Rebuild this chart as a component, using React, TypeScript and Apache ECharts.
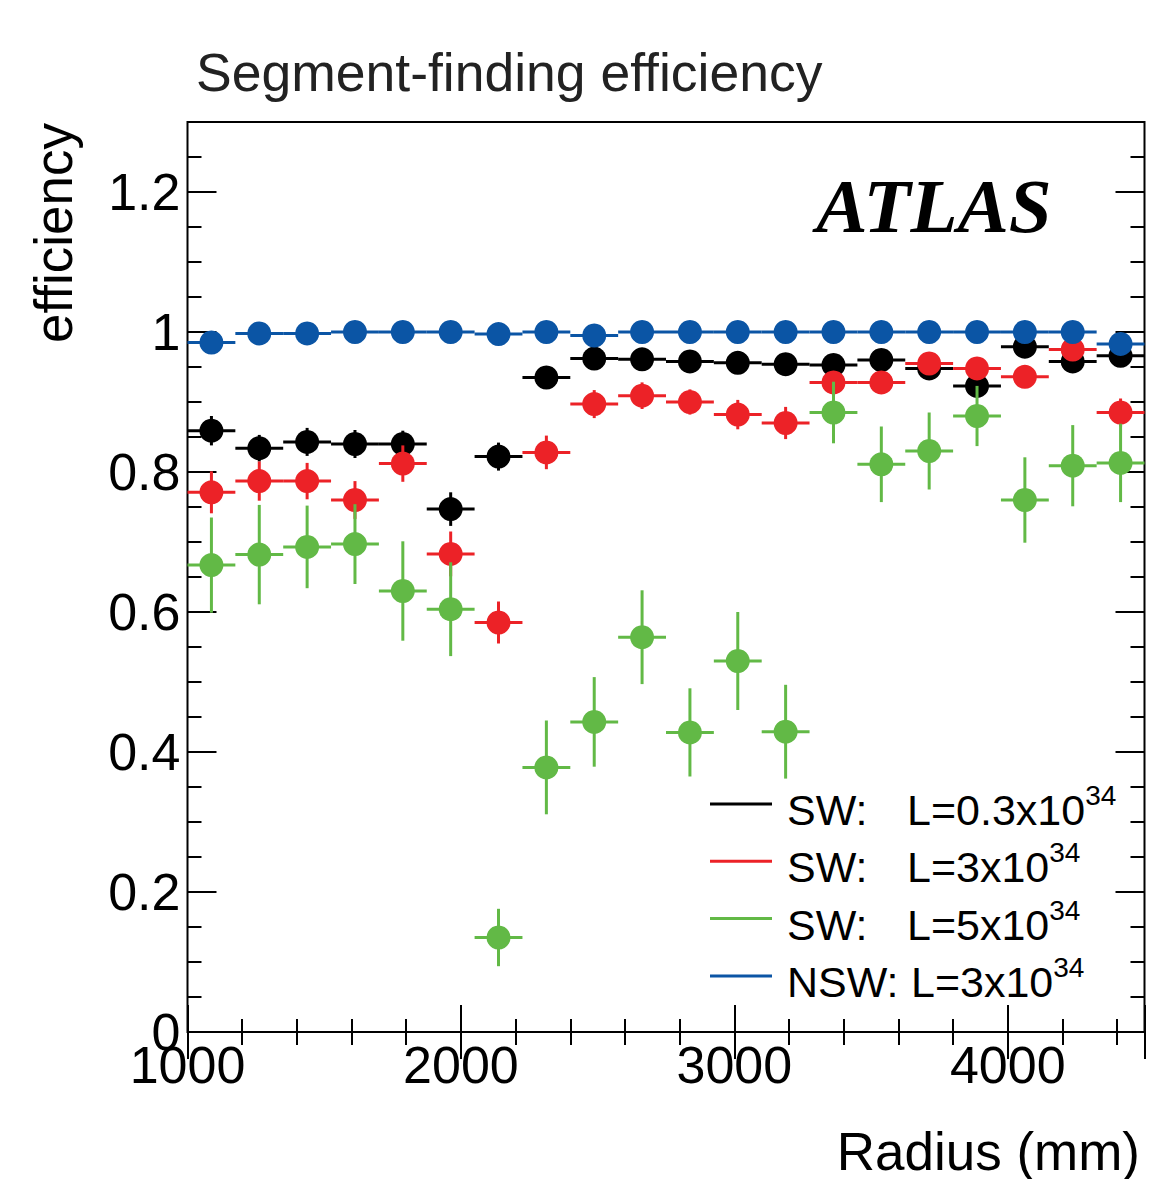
import { useEffect, useRef } from 'react';
import * as echarts from 'echarts';

// Bin centres (mm), bins are 175 mm wide
const binCenters = [1087.5, 1262.5, 1437.5, 1612.5, 1787.5, 1962.5, 2137.5, 2312.5, 2487.5, 2662.5, 2837.5, 3012.5, 3187.5, 3362.5, 3537.5, 3712.5, 3887.5, 4062.5, 4237.5, 4412.5];
const binHalfWidth = 87.5;

const swL03 = [0.859, 0.834, 0.843, 0.840, 0.840, 0.747, 0.822, 0.935, 0.962, 0.961, 0.958, 0.956, 0.954, 0.953, 0.960, 0.948, 0.923, 0.979, 0.958, 0.966];
const swL03Err = [0.021, 0.019, 0.020, 0.020, 0.019, 0.024, 0.020, 0.012, 0.010, 0.010, 0.010, 0.010, 0.010, 0.010, 0.010, 0.010, 0.012, 0.008, 0.008, 0.008];

const swL3 = [0.771, 0.787, 0.787, 0.760, 0.812, 0.683, 0.585, 0.828, 0.897, 0.909, 0.900, 0.882, 0.870, 0.928, 0.928, 0.955, 0.948, 0.936, 0.975, 0.885];
const swL3Err = [0.030, 0.028, 0.026, 0.027, 0.026, 0.032, 0.030, 0.024, 0.020, 0.019, 0.018, 0.021, 0.023, 0.015, 0.015, 0.014, 0.014, 0.013, 0.013, 0.020];

const swL5 = [0.667, 0.682, 0.693, 0.697, 0.630, 0.604, 0.135, 0.378, 0.443, 0.564, 0.428, 0.530, 0.429, 0.885, 0.811, 0.830, 0.880, 0.760, 0.809, 0.813];
const swL5Err = [0.068, 0.071, 0.059, 0.057, 0.071, 0.067, 0.041, 0.067, 0.064, 0.067, 0.063, 0.070, 0.067, 0.044, 0.054, 0.055, 0.043, 0.061, 0.058, 0.056];

const nswL3 = [0.985, 0.998, 0.998, 1.0, 1.0, 1.0, 0.997, 1.0, 0.995, 1.0, 1.0, 1.0, 1.0, 1.0, 1.0, 1.0, 1.0, 1.0, 1.0, 0.983];
const nswL3Err = [0.004, 0.004, 0.004, 0.004, 0.004, 0.004, 0.004, 0.004, 0.004, 0.004, 0.004, 0.004, 0.004, 0.004, 0.004, 0.004, 0.004, 0.004, 0.004, 0.004];

const seriesNames = ['SW: L=0.3x10^34', 'SW: L=3x10^34', 'SW: L=5x10^34', 'NSW: L=3x10^34'];
const legendPrefix = ['SW:', 'SW:', 'SW:', 'NSW:'];
const legendLumi = ['L=0.3x10', 'L=3x10', 'L=5x10', 'L=3x10'];
const legendExp = '34';
const seriesColors = ['#000000', '#ec2227', '#62b946', '#0b55a5'];

const titleText = 'Segment-finding efficiency';
const xTitle = 'Radius (mm)';
const yTitle = 'efficiency';
const experimentLabel = 'ATLAS';

const FONT = '"Liberation Sans", Arial, Helvetica, sans-serif';

function makeSeries(name: string, values: number[], errs: number[], color: string) {
  return {
    type: 'custom',
    name,
    itemStyle: { color },
    encode: { x: 0, y: 1 },
    clip: false,
    data: binCenters.map((x, i) => [x, values[i], errs[i]]),
    renderItem: (params: any, api: any) => {
      const x = api.value(0);
      const y = api.value(1);
      const e = api.value(2);
      const c = api.coord([x, y]);
      const l = api.coord([x - binHalfWidth, y]);
      const r = api.coord([x + binHalfWidth, y]);
      const t = api.coord([x, y + e]);
      const b = api.coord([x, y - e]);
      return {
        type: 'group',
        children: [
          { type: 'line', shape: { x1: l[0], y1: l[1], x2: r[0], y2: r[1] }, style: { stroke: color, lineWidth: 3 } },
          { type: 'line', shape: { x1: t[0], y1: t[1], x2: b[0], y2: b[1] }, style: { stroke: color, lineWidth: 3 } },
          { type: 'circle', shape: { cx: c[0], cy: c[1], r: 12 }, style: { fill: color } },
        ],
      };
    },
  };
}

function tickAxis(kind: 'x' | 'y', position: string, interval: number, length: number, labels: boolean) {
  const base: any = {
    type: 'value',
    position,
    min: kind === 'x' ? 1000 : 0,
    max: kind === 'x' ? 4500 : 1.3,
    interval,
    axisLine: { show: false },
    splitLine: { show: false },
    axisTick: { show: true, inside: true, length, lineStyle: { color: '#000', width: 2 } },
    axisLabel: { show: false },
  };
  if (labels) {
    base.axisLabel = {
      show: true,
      color: '#000',
      fontFamily: FONT,
      fontSize: 52,
      lineHeight: 52,
      margin: 7,
      formatter: (v: number) => {
        if (kind === 'x' && v > 4400) return '';
        if (kind === 'y' && v > 1.25) return '';
        return String(Math.round(v * 100) / 100);
      },
    };
  }
  return base;
}

export default function App() {
  const ref = useRef<HTMLDivElement>(null);
  useEffect(() => {
    if (!ref.current) return;
    const chart = echarts.init(ref.current, null, { renderer: 'svg' });
    chart.setOption({
      animation: false,
      backgroundColor: '#ffffff',
      title: {
        text: titleText,
        left: 196,
        top: 46,
        padding: 0,
        textStyle: { fontFamily: FONT, fontSize: 53.5, lineHeight: 53, fontWeight: 'normal', color: '#222' },
      },
      grid: {
        left: 187.5,
        top: 122,
        width: 957,
        height: 910,
        show: true,
        borderColor: '#000',
        borderWidth: 2,
        backgroundColor: 'transparent',
      },
      xAxis: [
        tickAxis('x', 'bottom', 1000, 27, true),
        tickAxis('x', 'bottom', 200, 13, false),
        tickAxis('x', 'top', 1000, 27, false),
        tickAxis('x', 'top', 200, 13, false),
      ],
      yAxis: [
        tickAxis('y', 'left', 0.2, 29, true),
        tickAxis('y', 'left', 0.05, 14, false),
        tickAxis('y', 'right', 0.2, 29, false),
        tickAxis('y', 'right', 0.05, 14, false),
      ],
      legend: {
        orient: 'vertical',
        left: 705,
        top: 776.5,
        itemWidth: 62,
        itemHeight: 3,
        itemGap: 7.3,
        icon: 'rect',
        selectedMode: false,
        data: seriesNames,
        formatter: (name: string) => {
          const i = seriesNames.indexOf(name);
          const p = i === 3 ? 'q' : 'p';
          return `{${p}|${legendPrefix[i]}}{l|${legendLumi[i]}}{s|${legendExp}}`;
        },
        textStyle: {
          color: '#000',
          fontFamily: FONT,
          fontSize: 43,
          padding: [12, 0, 0, 10],
          rich: {
            p: { width: 120, fontSize: 43, lineHeight: 57, fontFamily: FONT, color: '#000' },
            q: { width: 124, fontSize: 43, lineHeight: 57, fontFamily: FONT, color: '#000' },
            l: { fontSize: 43, lineHeight: 57, fontFamily: FONT, color: '#000' },
            s: { fontSize: 28, lineHeight: 21, verticalAlign: 'top', fontFamily: FONT, color: '#000' },
          },
        },
      },
      graphic: [
        {
          type: 'text',
          x: 934,
          y: 206,
          style: {
            text: experimentLabel,
            fontFamily: '"Liberation Serif", "Times New Roman", serif',
            fontSize: 77,
            fontWeight: 'bold',
            fontStyle: 'italic',
            fill: '#000',
            align: 'center',
            verticalAlign: 'middle',
          },
        },
        {
          type: 'text',
          x: 1140,
          y: 1151,
          style: {
            text: xTitle,
            fontFamily: FONT,
            fontSize: 53,
            lineHeight: 44,
            fill: '#000',
            align: 'right',
            verticalAlign: 'middle',
          },
        },
        {
          type: 'text',
          x: 53,
          y: 233,
          rotation: Math.PI / 2,
          style: {
            text: yTitle,
            fontFamily: FONT,
            fontSize: 53,
            fill: '#000',
            align: 'center',
            verticalAlign: 'middle',
          },
        },
      ],
      series: [
        makeSeries(seriesNames[0], swL03, swL03Err, seriesColors[0]),
        makeSeries(seriesNames[1], swL3, swL3Err, seriesColors[1]),
        makeSeries(seriesNames[2], swL5, swL5Err, seriesColors[2]),
        makeSeries(seriesNames[3], nswL3, nswL3Err, seriesColors[3]),
      ],
    });
    return () => chart.dispose();
  }, []);
  return (
    <div
      ref={ref}
      style={{ position: 'absolute', left: 0, top: 0, width: 1151, height: 1179, background: '#fff' }}
    />
  );
}
